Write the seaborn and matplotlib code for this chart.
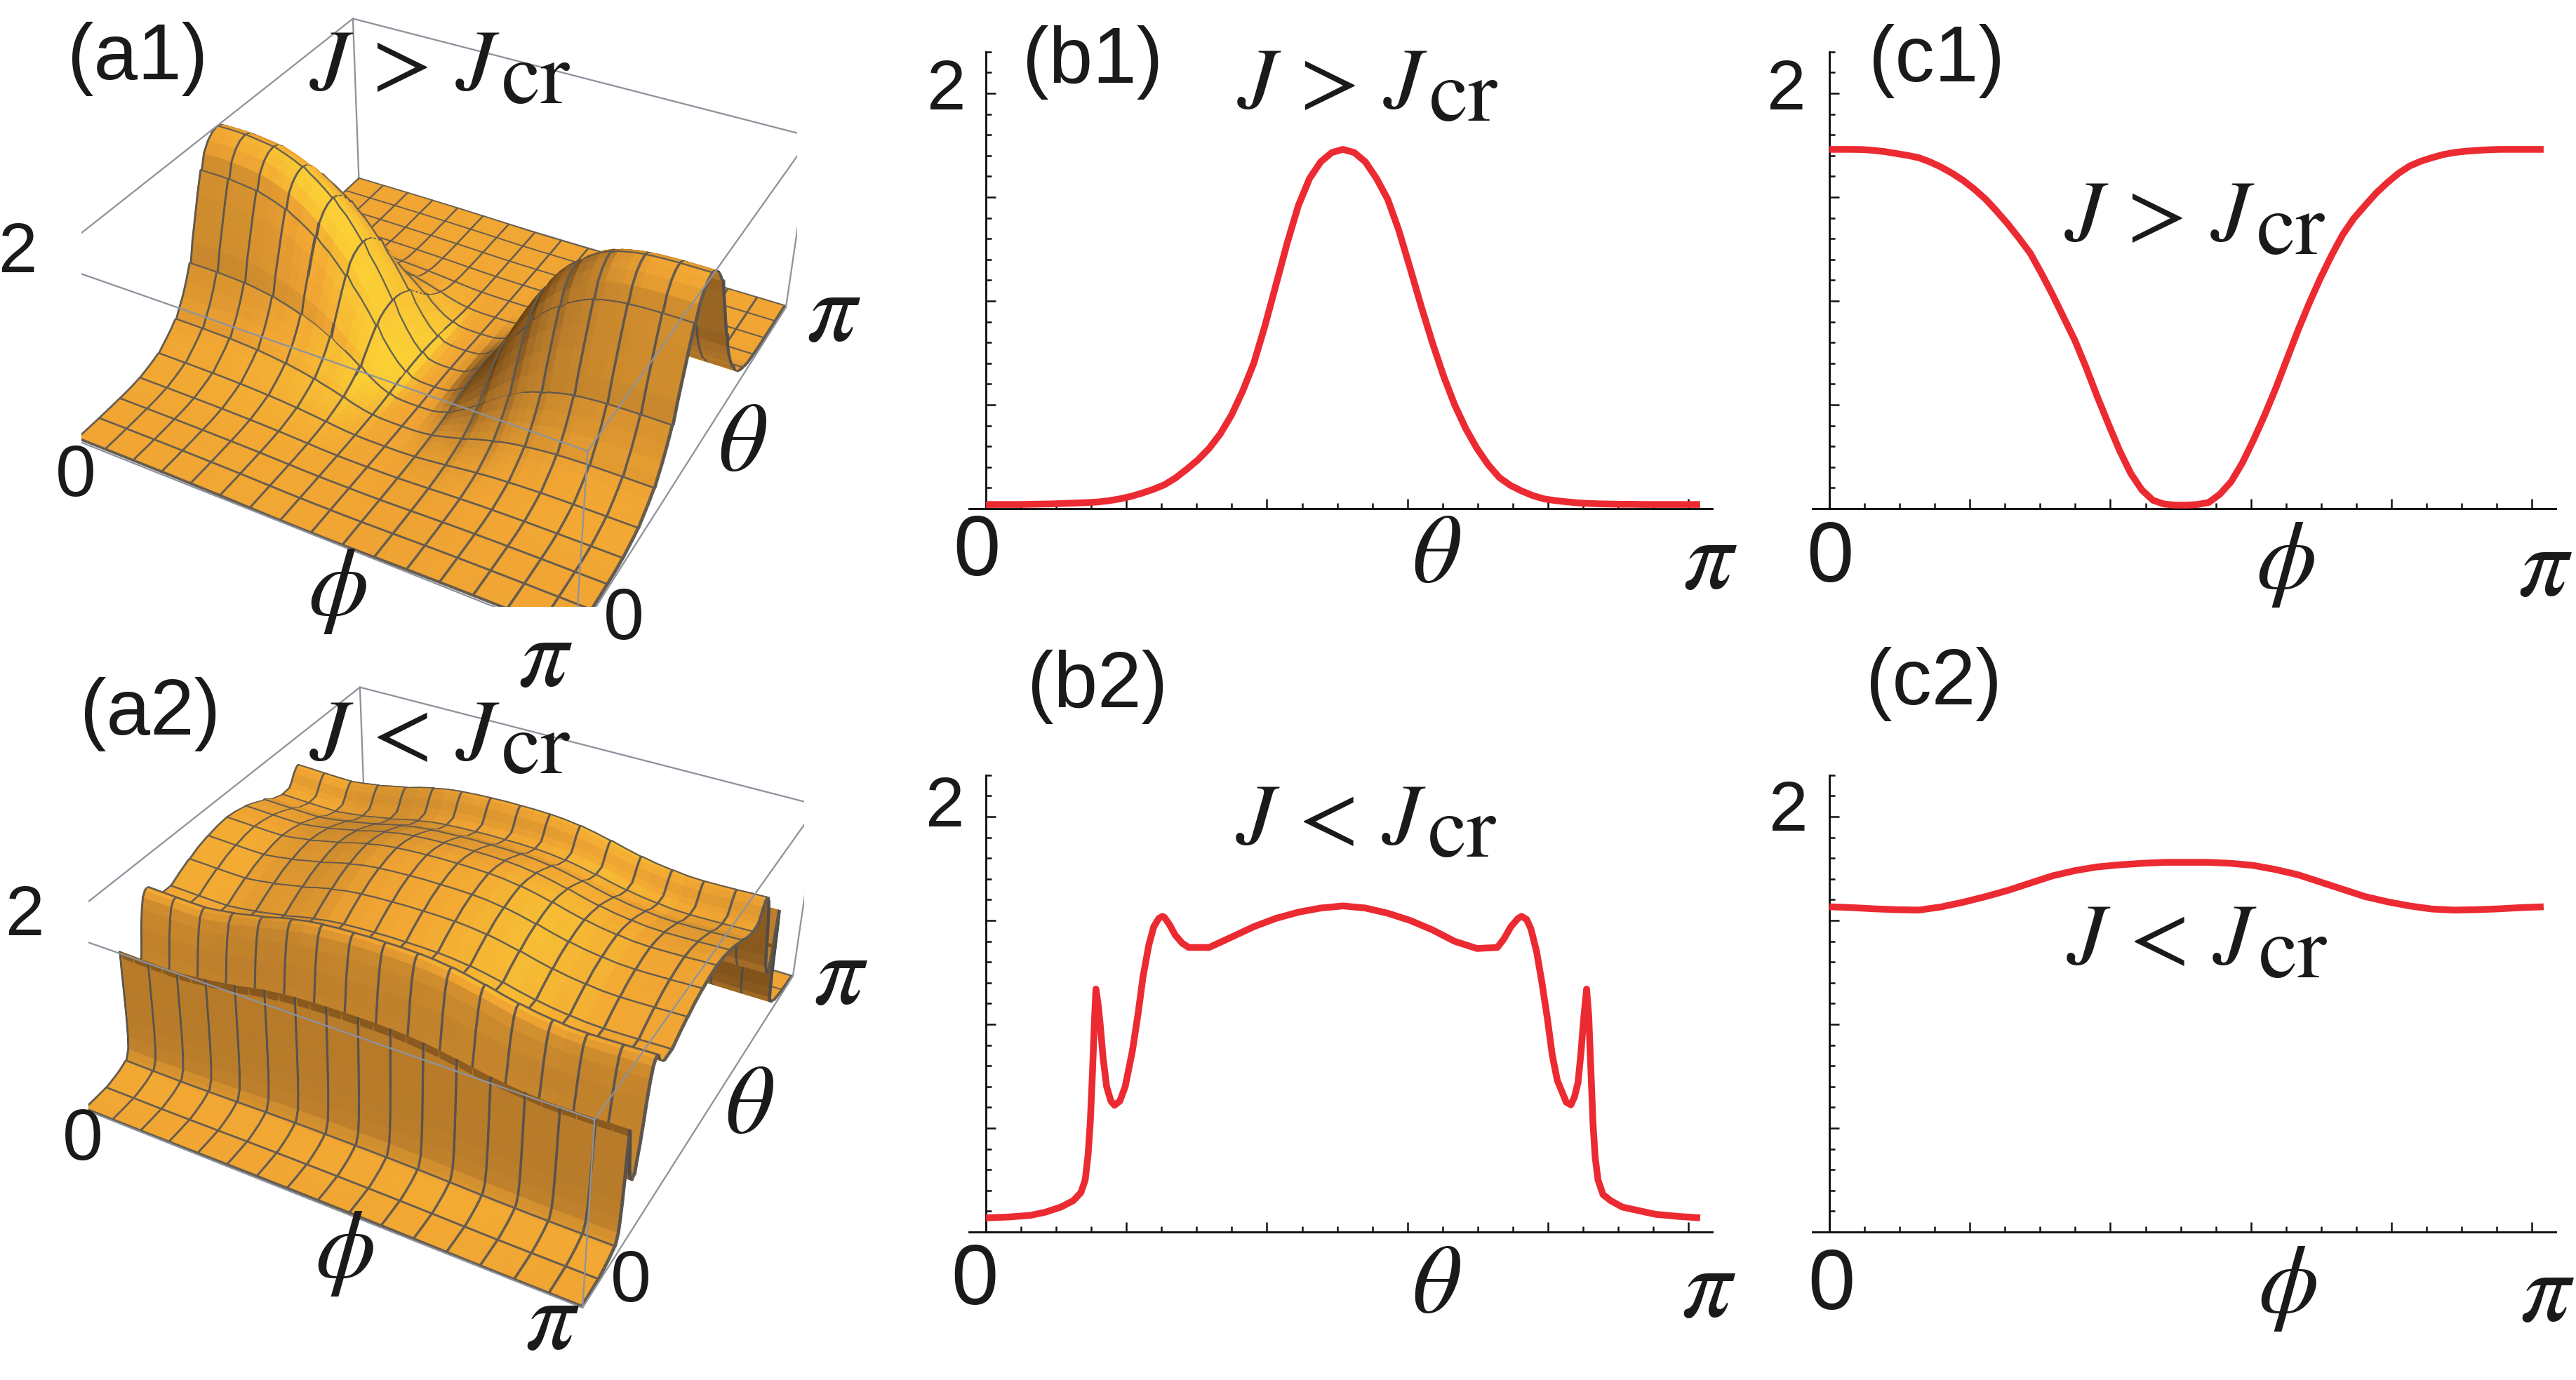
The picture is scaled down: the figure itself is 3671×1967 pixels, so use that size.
import numpy as np
import matplotlib
matplotlib.use("Agg")
import matplotlib.pyplot as plt
import seaborn as sns
from matplotlib.colors import LinearSegmentedColormap, to_rgb
from matplotlib.ticker import MultipleLocator

W, H, DPI = 3671, 1967, 300

# sample positions in units of pi
fine_frac = np.linspace(0, 1, 65)   # steps of 1/64
grid_frac = np.linspace(0, 1, 33)   # steps of 1/32

# (b1) theta profile at phi = 0, J > Jcr
b1_vals = [0.020, 0.020, 0.020, 0.020, 0.021, 0.022, 0.023, 0.025, 0.027, 0.029,
           0.032, 0.038, 0.047, 0.059, 0.075, 0.093, 0.115, 0.148, 0.190, 0.235,
           0.290, 0.360, 0.450, 0.565, 0.700, 0.880, 1.080, 1.280, 1.460, 1.590,
           1.670, 1.715, 1.730, 1.715, 1.670, 1.590, 1.490, 1.340, 1.160, 0.975,
           0.800, 0.640, 0.500, 0.385, 0.290, 0.212, 0.150, 0.112, 0.085, 0.063,
           0.047, 0.039, 0.033, 0.028, 0.025, 0.023, 0.022, 0.021, 0.021, 0.020,
           0.020, 0.020, 0.020, 0.020, 0.020]
# (c1) phi profile at theta = pi/2, J > Jcr
c1_vals = [1.730, 1.730, 1.730, 1.729, 1.725, 1.719, 1.710, 1.701, 1.690, 1.670,
           1.645, 1.615, 1.580, 1.538, 1.490, 1.432, 1.370, 1.302, 1.230, 1.133,
           1.030, 0.920, 0.810, 0.680, 0.540, 0.408, 0.280, 0.170, 0.090, 0.040,
           0.022, 0.017, 0.017, 0.020, 0.030, 0.070, 0.130, 0.220, 0.330, 0.450,
           0.580, 0.720, 0.860, 0.990, 1.110, 1.220, 1.320, 1.398, 1.460, 1.520,
           1.570, 1.615, 1.650, 1.673, 1.690, 1.705, 1.715, 1.721, 1.725, 1.728,
           1.730, 1.730, 1.730, 1.730, 1.730]
# (c2) phi profile at theta = pi/2, J < Jcr
c2_vals = [1.566, 1.562, 1.556, 1.552, 1.550, 1.565, 1.588, 1.615, 1.645, 1.680,
           1.715, 1.740, 1.758, 1.768, 1.775, 1.780, 1.780, 1.780, 1.775, 1.765,
           1.745, 1.720, 1.685, 1.650, 1.615, 1.590, 1.570, 1.555, 1.550, 1.552,
           1.556, 1.562, 1.566]
# (b2) theta profile at phi = 0, J < Jcr (dense near the sharp spikes)
b2_frac = [0.000, 0.031, 0.0625, 0.084, 0.105, 0.122, 0.125, 0.133, 0.139, 0.143,
           0.146, 0.149, 0.152, 0.154, 0.157, 0.160, 0.164, 0.169, 0.175, 0.180,
           0.1875, 0.195, 0.205, 0.213, 0.220, 0.228, 0.235, 0.242, 0.247, 0.250,
           0.257, 0.265, 0.275, 0.284, 0.3125, 0.344, 0.375, 0.406, 0.4375, 0.469,
           0.500, 0.531, 0.5625, 0.594, 0.625, 0.656, 0.6875, 0.716, 0.725, 0.735,
           0.745, 0.750, 0.757, 0.763, 0.771, 0.778, 0.786, 0.793, 0.800, 0.8125,
           0.819, 0.824, 0.829, 0.833, 0.837, 0.841, 0.844, 0.847, 0.850, 0.853,
           0.857, 0.864, 0.875, 0.891, 0.9375, 0.969, 1.000]
b2_vals = [0.068, 0.072, 0.080, 0.096, 0.120, 0.150, 0.160, 0.190, 0.250, 0.370,
           0.520, 0.750, 1.020, 1.170, 1.100, 1.000, 0.840, 0.700, 0.630, 0.610,
           0.630, 0.700, 0.870, 1.050, 1.230, 1.380, 1.470, 1.510, 1.520, 1.515,
           1.480, 1.430, 1.390, 1.370, 1.370, 1.420, 1.470, 1.510, 1.540, 1.560,
           1.570, 1.560, 1.535, 1.500, 1.455, 1.400, 1.365, 1.370, 1.410, 1.470,
           1.510, 1.520, 1.505, 1.460, 1.350, 1.210, 1.030, 0.850, 0.730, 0.625,
           0.612, 0.650, 0.720, 0.860, 1.030, 1.170, 1.040, 0.780, 0.520, 0.360,
           0.250, 0.180, 0.150, 0.120, 0.085, 0.075, 0.068]

RED = "#EC2A31"
MESH_RGB = np.array(to_rgb("#3F4756"))
BOX_C = "#8E939D"
orange = LinearSegmentedColormap.from_list(
    "mma", [(0.0, "#5A360C"), (0.3, "#A06A26"), (0.6, "#F1A533"),
            (0.82, "#FCD235"), (1.0, "#FFEC78")])

sns.set_theme(style="white", context="paper")
plt.rcParams["font.family"] = ["Liberation Sans", "DejaVu Sans"]
plt.rcParams["mathtext.fontset"] = "stix"
plt.rcParams["text.color"] = "#1a1a1a"

fig = plt.figure(figsize=(W / DPI, H / DPI), dpi=DPI)
fig.patch.set_facecolor("white")


def px_rect(left, top, w, h):
    return [left / W, 1 - (top + h) / H, w / W, h / H]


# ---------------- 3D surfaces ----------------
MESH = np.linspace(0, 1, 17)
EPS = 0.0045
LIGHT = np.array([0.75, -0.2, 0.62])
LIGHT = LIGHT / np.linalg.norm(LIGHT)


def mesh_nodes(frac, vals):
    pos, val, strip = [], [], []
    last = len(frac) - 1
    for i, (f, v) in enumerate(zip(frac, vals)):
        on = np.isclose(MESH, f, atol=1e-4).any()
        if on and i == last:
            pos += [f - EPS, f]; val += [v, v]; strip += [True, False]
        elif on:
            pos += [f, f + EPS]; val += [v, v]; strip += [True, False]
        else:
            pos.append(f); val.append(v); strip.append(False)
    return np.array(pos), np.array(val), np.array(strip)


def facet_colors(px, py, Z, zspan, sx, sy):
    dx = np.diff(px)[:, None]
    dy = np.diff(py)[None, :]
    Zs = Z * 0.4 / zspan
    dz1 = Zs[1:, 1:] - Zs[:-1, :-1]
    dz2 = Zs[:-1, 1:] - Zs[1:, :-1]
    one = np.ones_like(dz1)
    nx = (dy * dz2 - dz1 * dy) * one
    ny = (-dz1 * dx - dx * dz2) * one
    nz = 2 * dx * dy * one
    n = np.stack([nx, ny, nz], axis=-1)
    n /= np.linalg.norm(n, axis=-1, keepdims=True)
    s = n @ LIGHT
    t = np.clip(0.6 + 0.55 * (s - LIGHT[2]), 0, 1)
    rgba = orange(t)
    m = sx[:-1, None] | sy[None, :-1]
    rgba[m, :3] = 0.22 * rgba[m, :3] + 0.78 * MESH_RGB
    fc = np.ones(Z.shape + (4,))
    fc[:-1, :-1] = rgba
    return fc


def draw_box(ax):
    x0, x1 = ax.get_xlim3d()
    y0, y1 = ax.get_ylim3d()
    z0, z1 = ax.get_zlim3d()
    back = [((x0, x0), (y1, y1), (z0, z1)), ((x0, x0), (y0, y1), (z0, z0)),
            ((x0, x1), (y1, y1), (z0, z0))]
    front = [((x0, x1), (y0, y0), (z1, z1)), ((x0, x1), (y1, y1), (z1, z1)),
             ((x0, x0), (y0, y1), (z1, z1)), ((x1, x1), (y0, y1), (z1, z1)),
             ((x0, x0), (y0, y0), (z0, z1)), ((x1, x1), (y0, y0), (z0, z1)),
             ((x1, x1), (y1, y1), (z0, z1)), ((x0, x1), (y0, y0), (z0, z0)),
             ((x1, x1), (y0, y1), (z0, z0))]
    for xs, ys, zs in back:
        ax.plot(xs, ys, zs, color=BOX_C, lw=0.55, zorder=1)
    for xs, ys, zs in front:
        ax.plot(xs, ys, zs, color=BOX_C, lw=0.55, zorder=3)


def surface_panel(rect, theta_frac, theta_vals, phi_frac, phi_vals):
    ax = fig.add_axes(rect, projection="3d")
    ax.computed_zorder = False
    tp, tv, ts = mesh_nodes(theta_frac, theta_vals)
    pp, pv, ps = mesh_nodes(phi_frac, phi_vals)
    Z = np.outer(pv, tv) / phi_vals[0]
    zlo, zhi = Z.min(), Z.max()
    PHI, TH = np.meshgrid(pp * np.pi, tp * np.pi, indexing="ij")
    fc = facet_colors(pp, tp, Z, zhi - zlo, ps, ts)
    ax.plot_surface(PHI, TH, Z, facecolors=fc, rstride=1, cstride=1,
                    shade=False, linewidth=0.25, antialiased=True, zorder=2)
    ax.set_xlim(0, np.pi)
    ax.set_ylim(0, np.pi)
    ax.set_zlim(zlo, zhi)
    ax.set_box_aspect((1, 1, 0.4), zoom=1.08)
    # Mathematica default view point {1.3, -2.4, 2}
    ax.view_init(elev=36.24, azim=-61.56)
    ax.set_proj_type("persp", focal_length=0.438)
    ax.set_axis_off()
    draw_box(ax)
    return ax


surface_panel(px_rect(-24, -88, 1300, 1020), fine_frac, b1_vals, fine_frac, c1_vals)
surface_panel(px_rect(-14, 865, 1300, 1020), b2_frac, b2_vals, grid_frac, c2_vals)

# ---------------- 2D profiles ----------------
XPX = 324.0
YPX = 296.0
XL = (-0.075, 3.195)
YL = (0, 2.2)


def profile_panel(x0px, y0px, xs, ys):
    ax = fig.add_axes(px_rect(x0px + XL[0] * XPX, y0px - YL[1] * YPX,
                              (XL[1] - XL[0]) * XPX, YL[1] * YPX))
    sns.lineplot(x=np.asarray(xs) * np.pi, y=ys, ax=ax, color=RED,
                 linewidth=2.3, solid_capstyle="butt", clip_on=False, zorder=3)
    ax.set_xlim(*XL)
    ax.set_ylim(*YL)
    for sp in ["top", "right"]:
        ax.spines[sp].set_visible(False)
    ax.spines["left"].set_position(("data", 0))
    for sp in ["left", "bottom"]:
        ax.spines[sp].set_linewidth(0.7)
        ax.spines[sp].set_color("#111111")
    ax.xaxis.set_major_locator(MultipleLocator(0.618))
    ax.xaxis.set_minor_locator(MultipleLocator(0.1545))
    ax.yaxis.set_major_locator(MultipleLocator(0.5))
    ax.yaxis.set_minor_locator(MultipleLocator(0.1))
    ax.tick_params(which="both", direction="in", width=0.6, color="#111111",
                   labelbottom=False, labelleft=False, bottom=True, left=True)
    ax.tick_params(which="major", length=3.4)
    ax.tick_params(which="minor", length=1.9)
    ax.set_xlabel("")
    ax.set_ylabel("")
    ax.patch.set_alpha(0)
    return ax


def jlabel(ax, x, y, sym, size=30):
    t = ax.text(x, y, rf"$J\,{sym}\,J$", fontsize=size, ha="left",
                va="baseline", clip_on=False)
    ax.annotate(r"$\mathrm{cr}$", xy=(1, 0), xycoords=t, xytext=(0.3, -4.5),
                textcoords="offset points", fontsize=size, ha="left", va="bottom")


def axis_labels(ax, lab, var, pos):
    (pl, p2, p0, pv, ppi) = pos
    ax.text(*pl, lab, fontsize=27, ha="center", va="center", clip_on=False)
    ax.text(*p2, "2", fontsize=24, ha="center", va="center", clip_on=False)
    ax.text(*p0, "0", fontsize=29, ha="center", va="center", clip_on=False)
    ax.text(*pv, var, fontsize=33, ha="center", va="center", clip_on=False)
    ax.text(*ppi, r"$\pi$", fontsize=34, ha="center", va="center", clip_on=False)


axb1 = profile_panel(1405, 725, fine_frac, b1_vals)
axis_labels(axb1, "(b1)", r"$\theta$",
            [(0.47, 2.15), (-0.173, 2.01), (-0.04, -0.216), (1.98, -0.233), (3.185, -0.257)])
jlabel(axb1, 1.105, 1.93, ">")

axc1 = profile_panel(2607, 725, fine_frac, c1_vals)
axis_labels(axc1, "(c1)", r"$\phi$",
            [(0.472, 2.155), (-0.188, 2.01), (0.003, -0.247), (2.006, -0.264), (3.148, -0.29)])
jlabel(axc1, 1.034, 1.29, ">")

axb2 = profile_panel(1405, 1756, b2_frac, b2_vals)
axis_labels(axb2, "(b2)", r"$\theta$",
            [(0.49, 2.625), (-0.18, 2.04), (-0.05, -0.243), (1.98, -0.264), (3.18, -0.28)])
jlabel(axb2, 1.10, 1.87, "<")

axc2 = profile_panel(2607, 1756, grid_frac, c2_vals)
axis_labels(axc2, "(c2)", r"$\phi$",
            [(0.46, 2.64), (-0.18, 2.02), (0.01, -0.267), (2.015, -0.27), (3.157, -0.30)])
jlabel(axc2, 1.043, 1.29, "<")

# ---------------- labels of the 3D panels (pixel overlay) ----------------
ov = fig.add_axes([0, 0, 1, 1])
ov.set_xlim(0, W)
ov.set_ylim(H, 0)
ov.axis("off")
ov.patch.set_alpha(0)


def panel3d_labels(lab, sym, dy, lab_xy, j_xy):
    ov.text(lab_xy[0], lab_xy[1], lab, fontsize=27, ha="center", va="center")
    jlabel(ov, j_xy[0], j_xy[1], sym)
    items = [((26, 362), "2", 24), ((108, 681), "0", 25), ((481, 841), r"$\phi$", 33),
             ((777, 940), r"$\pi$", 34), ((889, 884), "0", 25), ((1058, 634), r"$\theta$", 33),
             ((1188, 448), r"$\pi$", 34)]
    for (x, y), s, fs in items:
        ov.text(x + dy[0], y + dy[1], s, fontsize=fs, ha="center", va="center")


panel3d_labels("(a1)", ">", (0, 0), (196, 84), (441, 128))
panel3d_labels("(a2)", "<", (10, 945), (214, 1018), (441, 1083))

fig.savefig("out.png", dpi=DPI)
